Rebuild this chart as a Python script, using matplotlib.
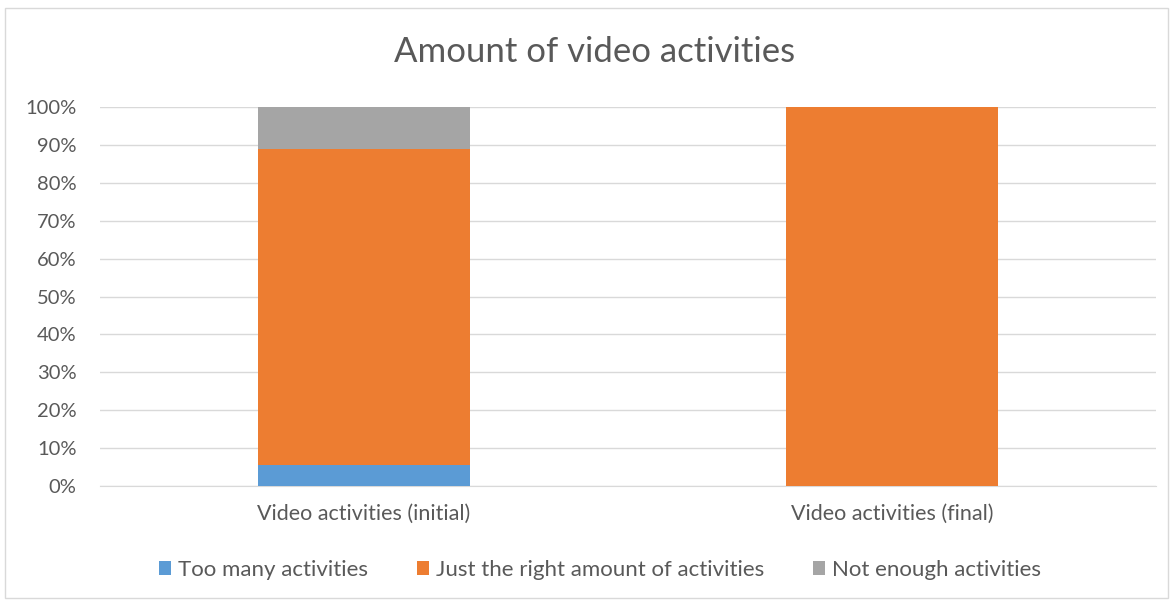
import matplotlib.pyplot as plt
from matplotlib.patches import Rectangle
from matplotlib.ticker import PercentFormatter

categories = ['Video activities (initial)', 'Video activities (final)']
too_many = [5.56, 0.0]
just_right = [83.33, 100.0]
not_enough = [11.11, 0.0]
series_names = ['Too many activities', 'Just the right amount of activities', 'Not enough activities']
colors = ['#5B9BD5', '#ED7D31', '#A5A5A5']

plt.rcParams['font.family'] = ['Lato', 'DejaVu Sans']
text_color = '#595959'

W, H = 1173, 603
fig = plt.figure(figsize=(W / 100, H / 100), dpi=100)
fig.patches.append(Rectangle((5 / W, 5 / H), 1163 / W, 590 / H, transform=fig.transFigure,
                             fill=False, edgecolor='#D9D9D9', linewidth=1))

# plot area in pixel coordinates
left, right, top, bottom = 100, 1156, 107, 486
ax = fig.add_axes([left / W, 1 - bottom / H, (right - left) / W, (bottom - top) / H])

x = range(len(categories))
bottoms = [0.0] * len(categories)
for vals, name, c in zip([too_many, just_right, not_enough], series_names, colors):
    ax.bar(x, vals, width=0.4, bottom=bottoms, color=c, label=name, zorder=3)
    bottoms = [b + v for b, v in zip(bottoms, vals)]

ax.set_xlim(-0.5, 1.5)
ax.set_ylim(0, 100)
ax.set_yticks(range(0, 101, 10))
ax.yaxis.set_major_formatter(PercentFormatter(decimals=0))
ax.set_xticks(list(x))
ax.set_xticklabels(categories)
ax.grid(axis='y', color='#D9D9D9', linewidth=1, zorder=0)
for s in ['top', 'right', 'left']:
    ax.spines[s].set_visible(False)
ax.spines['bottom'].set_color('#D9D9D9')
ax.tick_params(axis='both', length=0, colors=text_color)
ax.tick_params(axis='y', pad=17, labelsize=14.5)
ax.tick_params(axis='x', pad=13, labelsize=15.5)

fig.text(595 / W, 1 - 52 / H, 'Amount of video activities', ha='center', va='center',
         fontsize=25, color=text_color)

fig.legend(loc='center', bbox_to_anchor=(600 / W, 1 - 570 / H), ncol=3, frameon=False,
           fontsize=16, labelcolor=text_color, handlelength=0.55, handleheight=0.55,
           handletextpad=0.3, columnspacing=2.2)

fig.savefig('out.png', dpi=100)
